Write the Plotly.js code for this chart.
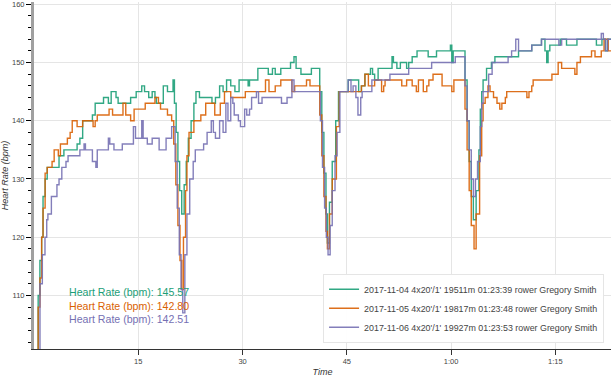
<!DOCTYPE html>
<html>
<head>
<meta charset="utf-8">
<script src="https://cdn.plot.ly/plotly-3.0.1.min.js"></script>
<style>html,body{margin:0;padding:0;background:#fff;}#chart{width:613px;height:380px;}</style>
</head>
<body>
<div id="chart"></div>
<script>
// ---- data (time in minutes, heart rate in bpm) ----
const seriesNames = [
  "2017-11-04 4x20'/1' 19511m 01:23:39 rower Gregory Smith",
  "2017-11-05 4x20'/1' 19817m 01:23:48 rower Gregory Smith",
  "2017-11-06 4x20'/1' 19927m 01:23:53 rower Gregory Smith"
];
const avgHR = [145.57, 142.80, 142.51];
const colors = ['#1b9e77', '#d95f02', '#7570b3'];

const tGreen = [0.4,0.6,0.85,1.1,1.3,1.6,1.9,3.6,4.3,6.2,6.6,7.0,8.4,8.8,10.0,10.7,11.1,11.8,12.1,13.9,14.7,15.5,15.9,16.5,17.0,17.4,17.6,18.6,19.2,20.0,
  20.2,20.45,20.7,20.95,21.25,21.6,21.9,22.2,22.6,23.0,23.3,23.8,25.6,26.1,26.7,27.2,27.7,28.3,28.9,29.5,30.8,31.0,32.2,33.7,34.3,34.7,35.5,36.9,37.4,37.7,38.4,39.9,
  41.1,41.4,41.7,42.0,42.2,42.5,42.9,43.4,43.8,45.2,46.7,47.1,47.6,48.4,48.7,49.0,49.5,51.5,51.7,52.2,52.7,53.6,53.9,54.4,55.1,56.7,57.9,59.9,60.1,60.3,
  62.0,62.3,62.6,62.9,63.2,63.6,64.0,64.2,64.4,64.6,65.1,65.8,66.3,69.7,71.6,73.0,73.5,73.75,73.95,74.2,75.7,76.6,78.1,80.9,81.7,82.2,82.5,83.65];
const hrGreen = [100,110,116,120,127,130,132,134,135,136,137,140,141,143,144,143,145,144,143,144,145,146,145,144,145,144,143,146,145,147,
  143,138,133,128,124,129,133,137,140,143,145,144,143,144,146,145,147,146,145,147,146,147,149,148,149,148,149,150,151,149,148,149,
  145,138,131,124,119,126,133,140,145,147,145,146,148,149,148,147,149,151,150,149,150,149,150,151,152,151,152,153,150,152,
  147,140,133,127,123,128,135,142,145,147,149,150,151,152,153,154,152,150,152,153,154,153,154,153,154,152,154,154];

const tOrange = [0.4,0.6,0.86,1.1,1.3,1.6,1.9,2.6,2.9,3.5,3.8,4.8,5.2,5.5,6.2,7.0,8.5,8.8,9.1,10.8,11.3,12.8,13.2,13.9,14.4,16.0,17.4,17.9,18.2,19.2,19.8,
  20.1,20.4,20.7,21.0,21.25,21.5,21.8,22.0,22.3,23.0,24.0,24.7,26.0,26.8,27.4,28.3,29.6,30.4,33.3,33.8,34.7,35.5,37.1,37.5,39.2,39.7,
  41.1,41.4,41.7,42.0,42.2,42.5,42.9,43.5,43.9,47.1,47.6,48.1,49.0,50.0,50.3,50.5,52.9,53.6,54.4,55.0,55.3,56.0,56.5,56.8,57.4,58.7,60.1,60.4,
  62.0,62.3,62.6,62.9,63.3,63.6,64.1,64.4,64.6,64.9,65.3,65.6,66.1,66.6,67.0,67.3,67.8,68.0,70.9,71.2,71.6,71.8,74.5,75.4,75.9,77.8,78.1,78.6,80.2,80.7,81.6,82.0,82.6,83.7];
const hrOrange = [100,108,113,120,125,131,132,133,135,134,136,137,138,140,139,140,139,140,141,142,141,143,141,140,142,143,144,143,142,141,140,
  136,129,122,116,111,120,128,134,138,140,141,143,141,143,145,144,144,145,147,145,146,147,145,146,147,146,
  141,134,127,121,118,124,130,139,145,146,148,146,147,145,146,147,146,147,146,145,147,145,146,147,148,146,145,147,
  142,135,128,122,118,124,134,140,143,144,146,145,144,143,142,143,144,145,144,145,146,147,148,150,149,148,150,151,152,151,152,154,152,152];

const tPurple = [0.4,0.86,1.2,1.58,1.83,2.0,2.5,3.3,3.6,4.0,4.6,4.9,6.6,7.2,7.4,8.4,8.9,9.1,10.7,10.9,11.5,12.7,14.3,14.6,15.5,15.7,16.3,17.0,18.0,19.0,19.8,
  20.3,20.6,20.9,21.15,21.4,21.7,22.0,22.4,22.9,23.2,24.4,24.9,25.5,25.8,26.1,26.7,27.2,27.6,27.9,28.3,28.6,28.8,29.4,29.7,30.3,30.6,31.0,31.3,32.0,32.3,32.8,35.6,36.4,37.1,37.4,
  41.2,41.5,41.8,42.05,42.3,42.6,42.9,43.3,43.6,44.0,45.2,45.6,45.9,46.3,46.6,47.0,47.2,48.6,51.2,53.9,57.2,60.6,
  62.0,62.3,62.6,62.9,63.2,63.5,63.8,64.2,64.4,64.6,65.4,65.9,68.2,68.7,69.3,69.7,71.6,73.0,75.5,75.9,81.6,81.9,82.2,82.5,83.9];
const hrPurple = [100,112,117,120,123,124,127,129,130,132,133,134,135,136,135,133,132,135,137,136,135,136,139,137,140,137,136,137,135,137,139,
  133,125,117,111,107,117,124,130,133,135,136,138,140,138,137,140,138,143,140,144,143,141,140,139,142,141,142,144,145,143,144,143,144,147,145,
  140,132,125,120,117,122,128,134,138,145,147,145,146,144,141,144,145,147,148,149,150,151,
  146,140,135,130,127,130,133,139,143,145,148,150,151,152,154,152,153,154,153,154,155,154,152,154,154];

const xTickVals = [15, 30, 45, 60, 75];
const xTickText = ['15', '30', '45', '1:00', '1:15'];
const yTickVals = [110, 120, 130, 140, 150, 160];

const times = [tGreen, tOrange, tPurple];
const rates = [hrGreen, hrOrange, hrPurple];

const FONT = 'Liberation Sans, Arial, Helvetica, sans-serif';

const traces = seriesNames.map((name, i) => ({
  type: 'scatter',
  mode: 'lines',
  name: name,
  x: times[i],
  y: rates[i],
  line: {color: colors[i], width: 1.4, shape: 'hv'},
  opacity: 0.9,
  hoverinfo: 'skip'
}));

const annYs = [0.163, 0.124, 0.086];
const annotations = avgHR.map((v, i) => ({
  xref: 'paper', yref: 'paper',
  x: 0.057, y: annYs[i],
  xanchor: 'left', yanchor: 'middle',
  showarrow: false,
  text: 'Heart Rate (bpm): ' + v.toFixed(2),
  font: {family: FONT, size: 10.6, color: colors[i]}
}));

const layout = {
  width: 613, height: 380,
  margin: {l: 34, r: 2, t: 2, b: 31, pad: 0},
  paper_bgcolor: '#ffffff',
  plot_bgcolor: '#ffffff',
  font: {family: FONT, color: '#444'},
  showlegend: true,
  xaxis: {
    range: [0, 83.0],
    tickmode: 'array', tickvals: xTickVals, ticktext: xTickText,
    ticks: 'outside', ticklen: 5, tickcolor: '#333', tickwidth: 1,
    showline: true, linecolor: '#333', linewidth: 1,
    showgrid: true, gridcolor: '#e5e5e5', gridwidth: 1,
    zeroline: false,
    tickfont: {family: FONT, size: 7.5, color: '#444'},
    ticklabeloverflow: 'allow',
    title: {text: 'Time', font: {family: FONT, size: 9, color: '#333', style: 'italic'}, standoff: 3},
    automargin: false
  },
  yaxis: {
    range: [100.8, 160.4],
    tickmode: 'array', tickvals: yTickVals,
    ticks: 'outside', ticklen: 5, tickcolor: '#000', tickwidth: 1,
    showline: true, linecolor: '#a0a0a0', linewidth: 3,
    showgrid: true, gridcolor: '#e5e5e5', gridwidth: 1,
    zeroline: false,
    minor: {dtick: 2, tick0: 100, ticks: 'outside', ticklen: 3, tickcolor: '#000', showgrid: false},
    tickfont: {family: FONT, size: 7.5, color: '#444'},
    ticklabeloverflow: 'allow',
    title: {text: 'Heart Rate (bpm)', font: {family: FONT, size: 9, color: '#333', style: 'italic'}, standoff: 3},
    automargin: false
  },
  legend: {
    x: 0.988, xanchor: 'right',
    y: 0.018, yanchor: 'bottom',
    bgcolor: 'rgba(255,255,255,0.95)',
    bordercolor: '#e5e5e5', borderwidth: 1,
    font: {family: FONT, size: 8.9, color: '#444'},
    tracegroupgap: 0
  },
  annotations: annotations
};

Plotly.newPlot('chart', traces, layout, {displayModeBar: false, staticPlot: true});
</script>
</body>
</html>
